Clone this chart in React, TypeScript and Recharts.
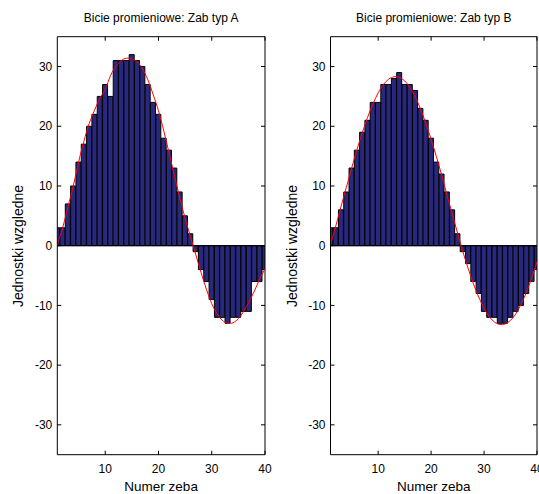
import { Bar, ComposedChart, Line, ReferenceLine, XAxis, YAxis } from "recharts";

// tooth numbers 1..40
const teeth = [
    1, 2, 3, 4, 5, 6, 7, 8, 9, 10, 11, 12, 13, 14, 15, 16, 17, 18, 19, 20,
    21, 22, 23, 24, 25, 26, 27, 28, 29, 30, 31, 32, 33, 34, 35, 36, 37, 38, 39, 40,
];

// measured runout, gear A
const runoutA = [
    3, 3, 7, 10, 14, 17, 20, 22, 25, 27, 25, 31, 31, 31, 32, 31, 30, 27, 24, 22,
    18, 16, 13, 9, 5, 2, -1, -4, -6, -9, -12, -12, -13, -12, -12, -11, -11, -6, -6, -4,
];

// fitted curve, gear A
const fitA = [
    0.3, 3.0, 6.5, 10.0, 14.0, 17.5, 20.5, 22.7, 24.7, 26.2, 28.5, 30.0, 31.0, 31.4, 31.3, 30.8, 29.6, 27.8, 25.3, 22.6,
    19.2, 15.5, 11.7, 8.0, 4.6, 1.5, -1.5, -4.5, -7.3, -9.7, -11.4, -12.5, -13.0, -12.9, -12.2, -11.0, -9.4, -7.6, -5.6, -3.9,
];

// measured runout, gear B
const runoutB = [
    3, 3, 6, 9, 13, 16, 19, 21, 24, 24, 27, 27, 28, 29, 27, 27, 26, 23, 21, 18,
    14, 12, 9, 6, 2, -1, -3, -6, -8, -11, -12, -12, -13, -13, -12, -11, -10, -8, -6, -4,
];

// fitted curve, gear B
const fitB = [
    0.2, 3.3, 6.6, 9.8, 13.0, 16.1, 18.9, 21.5, 23.7, 25.6, 27.0, 27.9, 28.3, 28.2, 27.6, 26.5, 24.9, 22.9, 20.5, 17.8,
    14.9, 11.8, 8.5, 5.3, 2.1, -1.0, -3.8, -6.4, -8.6, -10.5, -11.9, -12.8, -13.2, -13.1, -12.5, -11.4, -9.8, -7.8, -5.4, -2.7,
];

const xTicks = [10, 20, 30, 40];
const yTicks = [-30, -20, -10, 0, 10, 20, 30];

const font = '"Liberation Sans", Arial, sans-serif';
const TOP = 36.7;
const BOTTOM = 454.7;
const PLOT_H = BOTTOM - TOP;
const TICK = 4;

interface PanelProps {
    title: string;
    values: number[];
    fit: number[];
    left: number;
    width: number;
    axisWidth: number;
    rightMargin: number;
}

const Panel = ({ title, values, fit, left, width, axisWidth, rightMargin }: PanelProps) => {
    const data = teeth.map((t, i) => ({ tooth: t, value: values[i], fit: fit[i] }));
    const plotLeft = axisWidth;
    const plotRight = width - rightMargin;
    const plotW = plotRight - plotLeft;

    // MATLAB style: ticks point inward, mirrored on top/right
    const XTick = (props: any) => {
        const { x, y, payload } = props;
        if (!xTicks.includes(payload.value)) return <g />;
        return (
            <g>
                <line x1={x} x2={x} y1={y} y2={y - TICK} stroke="#000" />
                <line x1={x} x2={x} y1={y - PLOT_H} y2={y - PLOT_H + TICK} stroke="#000" />
                <text x={x} y={y + 18} textAnchor="middle" fill="#000" fontSize={12} fontFamily={font}>
                    {payload.value}
                </text>
            </g>
        );
    };

    const YTick = (props: any) => {
        const { x, y, payload } = props;
        return (
            <g>
                <line x1={x} x2={x + TICK} y1={y} y2={y} stroke="#000" />
                <line x1={x + plotW} x2={x + plotW - TICK} y1={y} y2={y} stroke="#000" />
                <text x={x - 5} y={y} dy="0.35em" textAnchor="end" fill="#000" fontSize={12} fontFamily={font}>
                    {payload.value}
                </text>
            </g>
        );
    };

    return (
        <div style={{ position: "absolute", left, top: 0, width, height: 494, fontFamily: font }}>
            <ComposedChart
                width={width}
                height={494}
                data={data}
                margin={{ top: TOP, right: rightMargin, bottom: 494 - BOTTOM - 30, left: 0 }}
                barCategoryGap={0}
                barGap={0}
            >
                <XAxis
                    dataKey="tooth"
                    type="number"
                    domain={[1, 40]}
                    ticks={teeth}
                    interval={0}
                    allowDataOverflow
                    height={30}
                    tickSize={0}
                    tickMargin={0}
                    tickLine={false}
                    axisLine={{ stroke: "#000" }}
                    tick={XTick}
                />
                <YAxis
                    type="number"
                    domain={[-35, 35]}
                    ticks={yTicks}
                    interval={0}
                    allowDataOverflow
                    width={axisWidth}
                    tickSize={0}
                    tickMargin={0}
                    tickLine={false}
                    axisLine={{ stroke: "#000" }}
                    tick={YTick}
                />
                <ReferenceLine y={35} stroke="#000" />
                <ReferenceLine x={40} stroke="#000" />
                <Bar
                    dataKey="value"
                    fill="#28287f"
                    stroke="#000"
                    strokeWidth={1}
                    isAnimationActive={false}
                />
                <ReferenceLine y={0} stroke="#000" />
                <Line
                    dataKey="fit"
                    type="natural"
                    stroke="#ff0000"
                    strokeWidth={1}
                    dot={false}
                    isAnimationActive={false}
                />
            </ComposedChart>
            <div
                style={{
                    position: "absolute",
                    left: plotLeft,
                    width: plotW,
                    top: 10,
                    textAlign: "center",
                    fontSize: 12,
                    lineHeight: "16px",
                    whiteSpace: "nowrap",
                }}
            >
                {title}
            </div>
            <div
                style={{
                    position: "absolute",
                    left: plotLeft - 39,
                    top: 245.7,
                    transform: "translate(-50%, -50%) rotate(-90deg)",
                    fontSize: 14,
                    whiteSpace: "nowrap",
                }}
            >
                Jednostki wzgledne
            </div>
            <div
                style={{
                    position: "absolute",
                    left: plotLeft,
                    width: plotW,
                    top: 479,
                    textAlign: "center",
                    fontSize: 13.5,
                    lineHeight: "16px",
                    whiteSpace: "nowrap",
                }}
            >
                Numer zeba
            </div>
        </div>
    );
};

export default function App() {
    return (
        <div style={{ position: "absolute", left: 0, top: 0, width: 539, height: 494, background: "#fff" }}>
            <Panel
                title="Bicie promieniowe: Zab typ A"
                values={runoutA}
                fit={fitA}
                left={0}
                width={275}
                axisWidth={57.3}
                rightMargin={10}
            />
            <Panel
                title="Bicie promieniowe: Zab typ B"
                values={runoutB}
                fit={fitB}
                left={273}
                width={266}
                axisWidth={57.5}
                rightMargin={2}
            />
        </div>
    );
}
